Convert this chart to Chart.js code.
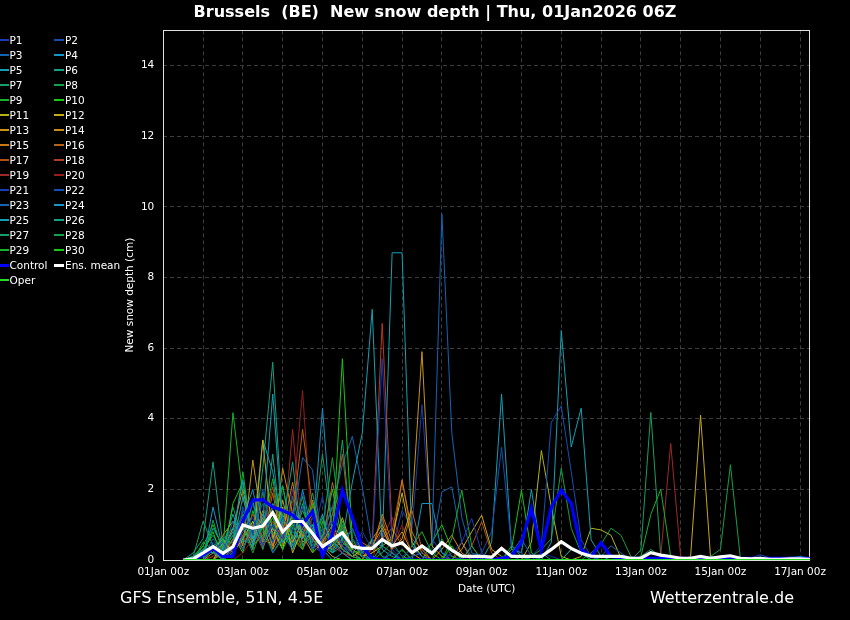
<!DOCTYPE html>
<html>
<head>
<meta charset="utf-8">
<script src="https://cdn.jsdelivr.net/npm/chart.js@4.4.1/dist/chart.umd.min.js"></script>
<style>
html,body{margin:0;padding:0;background:#000;}
#wrap{position:relative;width:850px;height:620px;background:#000;overflow:hidden;font-family:"DejaVu Sans",sans-serif;color:#fff;}
#c{position:absolute;left:0;top:0;}
.txt{position:absolute;white-space:pre;line-height:16px;font-size:16px;color:#fff;}
.lg{position:absolute;height:12px;line-height:12px;font-size:10.5px;color:#fff;white-space:pre;}
.sw{position:absolute;}
</style>
</head>
<body>
<div id="wrap">
<canvas id="c" width="850" height="620"></canvas>
<div class="txt" id="title" style="left:0;width:870px;text-align:center;top:4px;font-weight:bold;">Brussels  (BE)  New snow depth | Thu, 01Jan2026 06Z</div>
<div class="txt" style="left:120px;top:590px;">GFS Ensemble, 51N, 4.5E</div>
<div class="txt" style="right:56px;top:590px;">Wetterzentrale.de</div>
<div id="legend"></div>
</div>
<script>
// ---------- DATA ----------
const hours = [12,18,24,30,36,42,48,54,60,66,72,78,84,90,96,102,108,114,120,126,132,138,144,150,156,162,168,174,180,186,192,198,204,210,216,222,228,234,240,246,252,258,264,270,276,282,288,294,300,306,312,318,324,330,336,342,348,354,360,366,372,378,384,390];
const xGridHours = [0,24,48,72,96,120,144,168,192,216,240,264,288,312,336,360,384];
const xLabelHours = [0,48,96,144,192,240,288,336,384];
const xLabels = ['01Jan 00z','03Jan 00z','05Jan 00z','07Jan 00z','09Jan 00z','11Jan 00z','13Jan 00z','15Jan 00z','17Jan 00z'];
const yTicks = [0,2,4,6,8,10,12,14];

const P1 = [0,0,0.2,0.4,0,0.3,0.8,1.2,0.4,1.0,0.6,1.4,0.9,0.3,0.6,1.1,
 0.4,0.2,0.8,0.3,5.7,0.4,0.1,0.3,0.1,0,0,0.2,0.5,1.18,0.2,0,
 0,0.1,0,0,0.2,0.1,0,0,0,0,0,0,0,0,0,0,
 0,0,0,0,0,0,0,0,0,0,0,0,0,0,0,0];
const P2 = [0,0,0,0.3,0.5,0.1,1.5,0.7,2.0,0.5,1.2,0.8,1.9,0.4,0.2,0.7,
 0.5,0.9,0.1,0,0,0.3,0,0,0,0,0,0,0,0,0,0,
 0,0,0,0.1,0.4,3.9,4.36,2.5,0.57,0.1,0,0,0,0,0,0,
 0,0,0,0,0,0,0,0,0,0.05,0.15,0.05,0,0,0,0];
const P3 = [0,0,0.1,0.6,0.2,1.1,0.3,0.9,1.6,0.2,0.7,1.1,2.9,2.55,0.3,0.5,
 0.2,0.6,0.3,0.1,0,0.2,0,0.1,0.2,0.5,9.8,3.6,1.2,0.2,0.1,0,
 0,0.2,0.6,0.1,0,0,0,0,0,0,0.1,0.4,0.2,0,0,0,
 0,0,0,0,0,0,0,0,0,0,0,0,0,0,0,0];
const P4 = [0,0,0,1.5,0.3,0.8,2.26,0.4,1.3,0.9,0.5,0.8,0.6,1.0,0.3,0,
 0.2,0,0,0,0,0,0,0,1.6,1.6,0.2,0,0,0,0,0,
 0,0,0,0,0,0,0,0,0,0,0,0,0,0,0,0,
 0,0,0,0,0,0,0,0,0,0,0,0,0,0,0,0];
const P5 = [0,0.1,0.3,0.2,0,0.4,1.8,0.6,1.1,4.7,0.8,0.3,1.2,0.5,1.3,0.2,
 0.6,2.2,3.6,7.1,0.3,0.1,0,0,0,0,0,0,0,0,0,0,
 0,0,0,0,0,0.5,6.5,3.2,4.3,0.57,0.1,0,0,0,0,0,
 0,0,0,0,0,0,0,0,0,0,0,0,0,0.05,0.1,0.05];
const P6 = [0,0,0.3,0.3,0,0.2,1.0,0.3,2.6,5.6,1.0,2.78,0.4,0.9,0.2,0.5,
 0.3,0.1,0,0,0.4,0.2,0,0,0,0,0,0,0,0,0,0,
 0,0.4,0.1,0,0,0,0,0.3,0.2,0,0,0,0,0,0,0,
 0,0,0,0,0,0,0,0,0,0,0,0,0,0,0,0];
const P7 = [0,0.1,1.1,0.4,0.6,0.9,0.5,1.7,0.3,1.5,2.1,0.6,1.4,0.7,3.0,0.8,
 3.4,0.4,0.2,0.6,0.1,0,0.3,0,0,0,0,0,0,0.4,0,0,
 0,0,0,0,0,0,0,0,0,0,0,0,0,0,0.1,0.3,
 0.1,0,0,0,0,0,0,0,0,0,0,0,0,0,0,0];
const P8 = [0,0,0,1.13,0.2,0.7,1.3,0.5,0.9,0.2,0.6,1.2,0.8,0.3,0.9,2.9,
 0.7,0.2,0,0,0.2,0.5,0.1,0,0,0,0.6,0.1,0,0,0,0,
 0,0,0,0.1,0.3,0.6,2.6,0.9,0.2,0.1,0,0,0,0,0,0,
 0,0,0,0,0,0,0,0,0,0,0,0,0,0,0,0];
const P9 = [0,0,0.4,0.2,0.3,4.17,1.8,0.6,0.9,2.3,0.5,1.0,0.3,1.6,0.4,0.2,
 1.0,0.3,0.1,0,0,0.2,0,0,0,0,0,0.6,1.98,0.4,0,0,
 0,0,0,0,0,0,0,0,0,0,0,0,0,0,0.1,1.29,
 2.0,0.1,0,0,0,0,0,0,0,0,0,0,0,0,0,0];
const P10 = [0,0,0.2,0.8,0,1.6,2.2,0.4,0.7,1.2,0.3,0.9,1.8,0.2,1.1,0.5,
 5.7,0.6,0.1,0,0,0,0.3,0,0,0,0,0.4,0,0,0,0,
 0,0.3,1.98,0.2,0,0,0,0,0,0,0,0,0,0,0,0,
 0,0,0,0,0,0,0,0,0,0,0,0,0,0,0,0];
const P11 = [0,0,0,0.3,0.6,0.2,0.6,1.1,0.4,0.9,0.3,1.4,0.5,0.8,0.2,0.4,
 1.2,0.3,0.1,0.2,0.4,0.6,1.9,0.5,0.1,0,0,0,0,0,0,0,
 0,0,0,0.5,3.1,1.5,0.1,0,0.1,0.9,0.85,0.7,0.05,0,0,0,
 0,0,0,0,0,0,0,0,0,0,0,0,0,0,0,0];
const P12 = [0,0,0,0,0.5,0.2,1.0,0.3,3.4,0.6,1.5,0.2,0.9,1.3,0.4,0.1,
 0,0,0,0,0,0,0,0,0,0,0,0,0.3,0.8,1.27,0.3,
 0.1,0,0,0,0,0,0,0,0,0,0,0,0,0,0,0,
 0,0,0,0.1,4.1,0.1,0,0,0,0,0,0,0,0,0,0];
const P13 = [0,0,0,0.2,0.7,1.1,0.4,2.83,0.9,0.3,1.7,0.5,1.1,0.6,0.2,0.8,
 0.3,0.1,0.3,0.4,0.9,0.3,0.6,1.5,5.9,0.4,0.1,0,0,0,0,0,
 0,0,0,0,0,0,0,0,0,0,0,0,0,0,0,0,
 0,0,0,0,0,0,0,0,0,0,0,0,0,0,0,0];
const P14 = [0,0,0,0,0.3,0.9,2.0,0.6,1.2,0.4,2.6,1.3,0.7,0.2,0.5,1.0,
 0.4,0.2,0,0.6,1.0,0.4,0.8,0.2,0,0,0.3,0.7,0.2,0,0,0,
 0,0,0,0,0,0,0,0,0,0,0,0,0,0,0,0,
 0,0,0,0,0,0,0,0,0,0,0,0,0,0,0,0];
const P15 = [0,0,0,0,0,0.4,0.9,0.5,1.4,0.3,0.8,2.2,0.6,1.7,0.5,0.3,
 0.6,0.2,0.5,0.3,1.3,0.5,2.26,0.8,0.2,0,0,0,0,0,0,0,
 0,0,0,0,0,0,0,0,0,0,0,0,0,0,0,0,
 0,0,0,0,0,0,0,0,0,0,0,0,0,0,0,0];
const P16 = [0,0,0,0,0.2,0.6,0.3,1.0,0.5,1.9,0.4,1.2,3.7,1.5,0.4,2.2,
 0.9,0.3,0.1,0.2,0.6,0.9,0.4,1.4,0.3,0,0,0,0.5,0,0,0,
 0,0,0,0,0,0,0,0,0,0,0,0,0,0,0,0,
 0,0,0,0,0,0,0,0,0,0,0,0,0,0,0,0];
const P17 = [0,0,0,0.1,0.4,0.2,0.7,1.3,0.6,0.4,1.1,0.7,0.3,0.9,0.3,1.3,
 3.0,0.5,0.1,0.3,1.2,0.2,0,0,0,0,0,0,0,0.4,1.08,0.2,
 0,0,0,0,0,0,0,0,0,0,0,0,0,0,0,0,
 0,0,0,0,0,0,0,0,0,0,0,0,0,0,0,0];
const P18 = [0,0,0,0,0.2,0.5,1.2,0.4,0.8,2.07,0.6,1.0,0.4,0.7,0.2,0.4,
 0.2,0.1,0.2,0.5,6.7,0.8,2.28,0.6,0.3,0,0,0,0,0,0,0,
 0,0,0,0,0,0,0,0,0,0,0,0,0,0,0,0,
 0,0,0,0,0,0,0,0,0,0,0,0,0,0,0,0];
const P19 = [0,0,0,0,0,0.3,0.5,0.9,0.3,1.1,0.5,3.7,0.6,1.4,0.3,0.6,
 0.2,0,0,0.3,0.6,1.2,0.5,0.2,0,0,0,0,0,0,0,0,
 0,0,0,0,0,0,0,0,0,0,0,0,0,0,0,0,
 0.1,3.3,0.1,0,0,0,0,0,0,0,0,0,0,0,0,0];
const P20 = [0,0,0,0,0,0,0.2,0.6,1.3,0.4,0.9,1.6,4.8,0.5,0.2,0.9,
 0.3,0.1,0,0,0.9,0.3,1.0,0.2,0,0,0,0,0,0,0,0,
 0,0,0,0,0,0,0,0,0,0,0,0,0,0,0,0,
 0,0,0,0,0,0,0,0,0,0,0,0,0,0,0,0];
const P21 = [0,0,0.3,0.2,0.1,0.4,1.1,0.5,0.8,1.3,0.4,2.0,1.0,0.6,1.8,0.3,
 0.9,0.4,0.2,0.3,0.8,0.3,1.4,0.9,4.4,0.6,0.2,0.1,0,0,0,0,
 0,0,0,0,0,0,0,0,0,0,0,0,0,0,0,0,
 0,0,0,0,0,0,0,0,0,0,0,0,0,0,0,0];
const P22 = [0,0,0,0.5,0.2,0.9,0.6,1.6,0.4,1.0,0.7,0.3,1.5,0.9,0.5,1.3,
 0.6,0.2,0,0,0,0,0,0,0,0,0,0,0,0,0.2,0.8,
 3.2,0.4,0.2,0,0,0,0,0,0,0,0,0,0,0,0,0,
 0,0,0,0,0,0.1,0.05,0,0,0,0,0,0,0,0,0];
const P23 = [0,0,0.2,0.4,0.5,0.3,1.4,0.8,0.4,1.1,0.6,0.9,1.2,0.4,0.8,1.5,
 2.7,3.5,2.07,0.4,0.1,0,0,0,0,0.3,1.93,2.07,0.5,0.1,0,0,
 0,0,0,0,0,0,0,0,0,0,0,0,0,0,0,0,
 0,0,0,0,0,0,0,0,0,0,0,0,0,0,0,0];
const P24 = [0,0,0,0.3,0.1,0.6,1.2,2.0,0.5,1.6,0.9,0.4,2.0,0.7,4.3,0.6,
 0.4,0.9,0.2,0,0,0,0,0,0,0,0,0,0,0,0,0,
 0,0,0,0,0,0,0,0,0,0,0,0,0,0,0,0,
 0,0,0,0,0,0,0,0,0,0,0,0.05,0.05,0.08,0.08,0.05];
const P25 = [0,0,0.2,0.9,0.4,1.3,0.5,0.7,3.4,2.5,0.8,0.5,1.6,0.3,0.6,0.2,
 0.4,0.1,0.3,0.5,0.4,8.7,8.7,0.4,0.1,0,0,0,0,0,0,0.5,
 4.7,0.3,0.2,2.0,0.2,0,0,0,0,0,0,0,0,0,0,0,
 0,0,0,0,0,0,0,0,0,0,0,0,0,0,0,0];
const P26 = [0,0.2,0.6,2.78,0.4,0.8,0.3,1.1,0.6,3.0,0.4,1.3,0.9,0.3,0.7,1.5,
 0.5,0.2,0,0,0,0,0,0,0,0,0,0,0,0,0,0,
 0,0,0,0,0,0,0,0.3,0.2,0,0,0,0,0,0,0,
 0,0,0,0,0,0,0,0,0,0,0,0,0,0,0,0];
const P27 = [0,0,0.3,0.7,0.2,1.5,0.6,0.4,1.1,0.8,0.3,1.8,0.6,1.2,0.4,0.9,
 0.3,0.1,0,0,0,0,0,0,0,0,0,0,0,0,0,0,
 0,0,0,0,0,0,0,0,0,0,0,0,0,0,0.28,4.18,
 0.1,0,0,0,0,0,0,0,0,0,0,0,0,0,0,0];
const P28 = [0,0,0,0.4,0.3,0.3,0.9,0.2,1.0,0.5,1.3,0.4,0.7,1.9,0.5,0.3,
 1.1,0.2,0,0,0,0,0,0,0,0,0,0,0,0,0,0,
 0,0,0,0,0,0,0,0,0,0.2,0.45,0.9,0.7,0.1,0,0,
 0,0,0,0,0,0.1,0.3,2.7,0.05,0,0,0,0,0,0,0];
const P29 = [0,0,0.5,0.3,0.5,0.5,2.5,0.4,1.93,0.6,1.0,0.3,0.8,0.5,1.2,0.4,
 0.7,0.2,0.3,0.1,0,0,0,0.4,0.8,0.2,0,0,0,0,0,0,
 0,0,0,0,0,0,0,0,0,0,0,0,0,0,0,0,
 0,0,0,0,0,0,0,0,0,0,0,0,0,0,0,0];
const P30 = [0,0.1,0.4,1.0,0.3,0.7,0.2,1.4,0.5,0.9,2.1,0.6,0.3,1.0,0.6,2.0,
 0.5,0.3,0.1,0,0,0,0,0,0,0.5,1.0,0.3,0,0,0,0,
 0,0,0,0,0,0,0,0,0,0,0,0,0,0,0,0,
 0,0,0,0,0,0,0,0,0,0,0,0,0,0,0,0];
const control = [0,0,0.15,0.33,0.1,0.1,1.1,1.7,1.7,1.5,1.4,1.27,1.0,1.37,0.1,0.75,
 1.98,1.2,0.38,0.05,0,0,0,0,0,0,0,0,0,0,0,0,
 0.05,0.1,0.5,1.46,0.28,1.5,1.98,1.6,0.3,0.1,0.49,0.1,0.05,0.05,0.05,0.05,
 0.05,0.05,0.05,0.05,0.05,0.05,0.05,0.05,0.05,0.05,0.05,0.05,0.05,0.05,0.05,0.05];
const oper = [0,0,0,0,0,0,0,0,0,0,0,0,0,0,0,0,
 0,0,0,0,0,0,0,0,0,0,0,0,0,0,0,0,
 0,0,0,0,0,0,0,0,0,0,0,0,0,0,0,0,
 0,0,0,0,0,0,0,0,0,0,0,0,0,0,0,0];
const ensMean = [0,0.03,0.2,0.38,0.19,0.38,0.99,0.9,0.96,1.34,0.8,1.09,1.09,0.75,0.38,0.57,
 0.77,0.38,0.33,0.33,0.58,0.4,0.49,0.21,0.4,0.19,0.49,0.28,0.11,0.1,0.1,0.08,
 0.33,0.1,0.1,0.1,0.1,0.3,0.52,0.33,0.19,0.11,0.1,0.1,0.1,0.05,0.05,0.21,
 0.14,0.1,0.05,0.05,0.1,0.05,0.09,0.12,0.05,0.03,0.05,0.02,0.02,0.03,0.03,0.02];

const members = [P1,P2,P3,P4,P5,P6,P7,P8,P9,P10,P11,P12,P13,P14,P15,P16,P17,P18,P19,P20,P21,P22,P23,P24,P25,P26,P27,P28,P29,P30];
const memberNames = ['P1','P2','P3','P4','P5','P6','P7','P8','P9','P10','P11','P12','P13','P14','P15','P16','P17','P18','P19','P20','P21','P22','P23','P24','P25','P26','P27','P28','P29','P30'];

// ---------- STYLE ----------
const palette20 = ['#1a3cb4','#1450b4','#1464b4','#1496c8','#14a0b4','#14a082','#14a064','#14a046','#14b428','#14c814',
                   '#b4b414','#c8aa14','#c89614','#c88c14','#c87814','#b46414','#b45014','#b43c1e','#a02828','#961e1e'];
const memberColor = i => palette20[i % 20];
const CONTROL_COLOR = '#0000ff', OPER_COLOR = '#22dd22', MEAN_COLOR = '#ffffff';

const toXY = vals => hours.map((h, k) => ({x: h, y: vals[k]}));
const datasets = [];
members.forEach((vals, i) => datasets.push({label: memberNames[i], data: toXY(vals), borderColor: memberColor(i), borderWidth: 1, order: 3}));
datasets.push({label: 'Control', data: toXY(control), borderColor: CONTROL_COLOR, borderWidth: 3.2, order: 2});
datasets.push({label: 'Ens. mean', data: toXY(ensMean), borderColor: MEAN_COLOR, borderWidth: 3.2, order: 1});
datasets.push({label: 'Oper', data: toXY(oper), borderColor: OPER_COLOR, borderWidth: 2, order: 0});

Chart.defaults.font.family = "'DejaVu Sans', sans-serif";

const frame = {
  id: 'frame',
  beforeDatasetsDraw(chart) {
    const {ctx, chartArea: a} = chart;
    ctx.save();
    ctx.strokeStyle = '#e0e0e0';
    ctx.lineWidth = 1;
    ctx.strokeRect(Math.round(a.left) + 0.5, Math.round(a.top) + 0.5, Math.round(a.right - a.left) - 1, Math.round(a.bottom - a.top));
    ctx.restore();
  }
};

const tickFont = {family: "'DejaVu Sans', sans-serif", size: 10.5};
new Chart(document.getElementById('c'), {
  type: 'line',
  data: {datasets},
  plugins: [frame],
  options: {
    responsive: false,
    animation: false,
    devicePixelRatio: 1,
    layout: {padding: {left: 124, top: 30.3, right: 40, bottom: 24.4}},
    elements: {point: {radius: 0}, line: {tension: 0}},
    plugins: {legend: {display: false}, tooltip: {enabled: false}, title: {display: false}},
    scales: {
      x: {
        type: 'linear', min: 0, max: 390,
        afterBuildTicks: s => { s.ticks = xGridHours.map(v => ({value: v})); },
        afterFit: s => { s.height = 35.6; },
        ticks: {
          color: '#ffffff', font: tickFont, padding: 6, maxRotation: 0, autoSkip: false,
          callback: v => { const k = xLabelHours.indexOf(v); return k >= 0 ? xLabels[k] : ''; }
        },
        grid: {color: '#3c3c3c', lineWidth: 1, drawTicks: false},
        border: {display: false, dash: [4, 3]},
        title: {display: true, text: 'Date (UTC)', color: '#ffffff', font: tickFont, padding: {top: 0, bottom: 0}}
      },
      y: {
        min: 0, max: 15,
        afterBuildTicks: s => { s.ticks = yTicks.map(v => ({value: v})); },
        afterFit: s => { s.width = 39.3; },
        ticks: {color: '#ffffff', font: tickFont, padding: 9},
        grid: {color: '#3c3c3c', lineWidth: 1, drawTicks: false},
        border: {display: false, dash: [4, 3]},
        title: {display: true, text: 'New snow depth (cm)', color: '#ffffff', font: tickFont, padding: {top: 0, bottom: 0}}
      }
    }
  }
});

// ---------- HTML LEGEND (two columns, row-major like the original) ----------
const legendItems = memberNames.map((n, i) => ({name: n, color: memberColor(i), w: 2}));
legendItems.push({name: 'Control', color: CONTROL_COLOR, w: 3});
legendItems.push({name: 'Ens. mean', color: MEAN_COLOR, w: 3});
legendItems.push({name: 'Oper', color: OPER_COLOR, w: 2});
const lg = document.getElementById('legend');
legendItems.forEach((it, k) => {
  const row = Math.floor(k / 2), col = k % 2;
  const yc = 39.5 + row * 15.05;
  const swX = col === 0 ? 0 : 54, txX = col === 0 ? 9.5 : 65;
  const sw = document.createElement('div');
  sw.className = 'sw';
  sw.style.cssText = `left:${swX}px;top:${(yc - it.w / 2).toFixed(1)}px;width:${col === 0 ? 9 : 10}px;height:${it.w}px;background:${it.color};`;
  lg.appendChild(sw);
  const t = document.createElement('div');
  t.className = 'lg';
  t.style.left = txX + 'px';
  t.style.top = (yc - 6).toFixed(1) + 'px';
  t.textContent = it.name;
  lg.appendChild(t);
});
</script>
</body>
</html>
